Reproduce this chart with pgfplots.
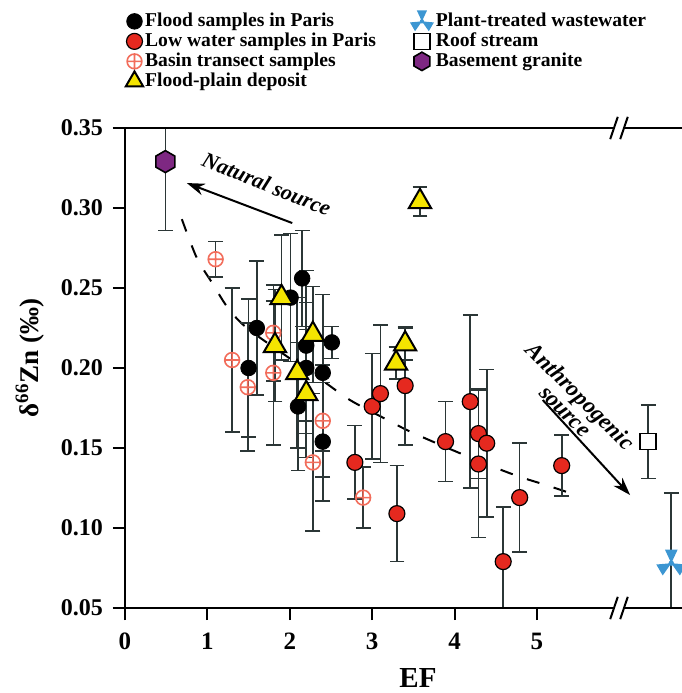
\documentclass[border=0pt]{standalone}
\usepackage{pgfplots}
\pgfplotsset{compat=1.18}
\usepackage{pgfplotstable}
\usepackage{fontspec}
\setmainfont{Liberation Serif}
\usetikzlibrary{arrows.meta}

\definecolor{redpt}{HTML}{E5291F}
\definecolor{salmon}{HTML}{F26D5B}
\definecolor{yel}{HTML}{F4E400}
\definecolor{purp}{HTML}{7E2882}
\definecolor{bluept}{HTML}{3C96D2}
\definecolor{ebar}{HTML}{2B3636}

\pgfdeclareplotmark{hexa}{%
 \pgfpathmoveto{\pgfqpoint{0pt}{\pgfplotmarksize}}%
 \pgfpathlineto{\pgfqpoint{-0.866\pgfplotmarksize}{0.5\pgfplotmarksize}}%
 \pgfpathlineto{\pgfqpoint{-0.866\pgfplotmarksize}{-0.5\pgfplotmarksize}}%
 \pgfpathlineto{\pgfqpoint{0pt}{-\pgfplotmarksize}}%
 \pgfpathlineto{\pgfqpoint{0.866\pgfplotmarksize}{-0.5\pgfplotmarksize}}%
 \pgfpathlineto{\pgfqpoint{0.866\pgfplotmarksize}{0.5\pgfplotmarksize}}%
 \pgfpathclose
 \pgfusepathqfillstroke}

\pgfdeclareplotmark{wstar}{%
 \pgfpathmoveto{\pgfpointorigin}%
 \pgfpathlineto{\pgfpointpolar{65}{\pgfplotmarksize}}%
 \pgfpathlineto{\pgfpointpolar{115}{\pgfplotmarksize}}%
 \pgfpathclose
 \pgfpathmoveto{\pgfpointorigin}%
 \pgfpathlineto{\pgfpointpolar{185}{\pgfplotmarksize}}%
 \pgfpathlineto{\pgfpointpolar{235}{\pgfplotmarksize}}%
 \pgfpathclose
 \pgfpathmoveto{\pgfpointorigin}%
 \pgfpathlineto{\pgfpointpolar{305}{\pgfplotmarksize}}%
 \pgfpathlineto{\pgfpointpolar{355}{\pgfplotmarksize}}%
 \pgfpathclose
 \pgfpathcircle{\pgfpointorigin}{0.18\pgfplotmarksize}%
 \pgfusepathqfill}

\pgfplotstableread{
x y e
1.50 0.200 0.043
1.60 0.225 0.042
2.01 0.244 0.040
2.15 0.256 0.030
2.20 0.214 0.047
2.20 0.200 0.041
2.10 0.176 0.040
2.40 0.197 0.049
2.51 0.216 0.010
2.40 0.154 0.037
}\flood

\pgfplotstableread{
x y e
2.79 0.141 0.023
3.00 0.176 0.033
3.10 0.184 0.043
3.30 0.109 0.030
3.40 0.189 0.037
3.89 0.154 0.025
4.19 0.179 0.054
4.29 0.159 0.028
4.39 0.153 0.046
4.29 0.140 0.046
4.59 0.079 0.034
4.79 0.119 0.034
5.30 0.139 0.019
}\lowwater

\pgfplotstableread{
x y e
1.10 0.268 0.011
1.30 0.205 0.045
1.49 0.188 0.040
1.80 0.222 0.030
1.80 0.197 0.045
2.40 0.167 0.035
2.28 0.141 0.043
2.89 0.119 0.019
}\basin

\pgfplotstableread{
x y e
1.82 0.214 0.035
1.90 0.244 0.039
2.09 0.197 0.047
2.20 0.184 0.040
2.28 0.221 0.030
3.29 0.203 0.010
3.40 0.215 0.010
3.58 0.304 0.009
}\plain

\pgfplotstableread{
x y e
0.49 0.329 0.043
}\granite

\pgfplotstableread{
x y e
6.35 0.154 0.023
}\roof

\pgfplotstableread{
x y e
6.63 0.078 0.044
}\plant

\pgfplotsset{
 floodst/.style={only marks, mark=*, mark size=3.9pt, mark options={fill=black, draw=black}},
 lowst/.style={only marks, mark=*, mark size=4pt, mark options={fill=redpt, draw=black, line width=0.6pt}},
 basinst/.style={only marks, mark=oplus, mark size=3.7pt, mark options={draw=salmon, line width=0.8pt}},
 fpst/.style={only marks, mark=triangle*, mark size=6.4pt, mark options={fill=yel, draw=black, line width=1pt}},
 plantst/.style={only marks, mark=wstar, mark size=7.5pt, mark options={fill=bluept, draw=none}},
 roofst/.style={only marks, mark=square*, mark size=4pt, mark options={fill=white, draw=black, line width=0.8pt}},
 granst/.style={only marks, mark=hexa, mark size=5.5pt, mark options={fill=purp, draw=black, line width=0.8pt}},
 errst/.style={error bars/.cd, y dir=both, y explicit,
   error bar style={line width=0.8pt, ebar},
   error mark options={rotate=90, mark size=3.7pt, line width=0.8pt, ebar}},
}

\begin{document}
\begin{tikzpicture}
\useasboundingbox (-62.5pt,-42.5pt) rectangle (278.5pt,304pt);
\begin{axis}[
 at={(0pt,0pt)}, anchor=south west,
 scale only axis, width=278.5pt, height=240pt,
 xmin=0, xmax=6.76, ymin=0.05, ymax=0.35,
 axis line style={draw=none},
 xtick={0,1,2,3,4,5}, xticklabels={0,1,2,3,4,5},
 ytick={0.05,0.10,0.15,0.20,0.25,0.30,0.35},
 yticklabels={0.05,0.10,0.15,0.20,0.25,0.30,0.35},
 xtick pos=bottom, ytick pos=left,
 tick align=outside, major tick length=6pt,
 tick style={line width=1pt, black},
 xticklabel style={font=\bfseries\fontsize{12.5}{12.5}\selectfont, yshift=-3pt},
 yticklabel style={font=\bfseries\fontsize{12}{12}\selectfont, xshift=-1.5pt},
 xlabel={EF},
 xlabel style={font=\bfseries\fontsize{14.5}{14.5}\selectfont, at={(axis description cs:0.526,-0.146)}, anchor=center},
 ylabel={δ\textsuperscript{66}Zn (‰)},
 ylabel style={font=\bfseries\fontsize{13.5}{13.5}\selectfont, at={(axis description cs:-0.1706,0.521)}, anchor=center, rotate=0},
 legend columns=2,
 legend cell align=left,
 legend image code/.code={\draw[mark repeat=2,mark phase=2,#1] plot coordinates {(0pt,0pt) (4pt,0pt) (9.5pt,0pt)};},
 legend style={at={(axis description cs:-0.01,1.254)}, anchor=north west, draw=none, fill=none,
   font=\bfseries\fontsize{9.8}{10}\selectfont, row sep=0pt,
   /tikz/every even column/.append style={column sep=16pt},
   nodes={inner sep=1pt, text height=6.5pt, text depth=1.5pt}},
]
% trend line
\addplot[forget plot, black, line width=1pt, dash pattern=on 6.5pt off 7.5pt, smooth] coordinates {
 (0.69,0.293) (0.87,0.269) (1.06,0.253) (1.25,0.2375) (1.48,0.225) (2.0,0.206)
 (2.4,0.192) (2.73,0.180) (3.13,0.169) (3.43,0.161) (3.78,0.153) (4.10,0.146)
 (4.43,0.139) (4.79,0.132) (5.1,0.127) (5.45,0.121)};

\addplot[basinst, forget plot, errst] table[x=x, y=y, y error=e] {\basin};
\addplot[floodst, forget plot, errst] table[x=x, y=y, y error=e] {\flood};
\addplot[lowst, forget plot, errst] table[x=x, y=y, y error=e] {\lowwater};
\addplot[fpst, forget plot, errst] table[x=x, y=y, y error=e] {\plain};
\addplot[granst, forget plot, errst] table[x=x, y=y, y error=e] {\granite};
\addplot[roofst, forget plot, errst] table[x=x, y=y, y error=e] {\roof};
\addplot[plantst, forget plot, errst] table[x=x, y=y, y error=e] {\plant};

\addlegendimage{floodst}\addlegendentry{Flood samples in Paris}
\addlegendimage{plantst, mark size=6pt}\addlegendentry{Plant-treated wastewater}
\addlegendimage{lowst}\addlegendentry{Low water samples in Paris}
\addlegendimage{roofst}\addlegendentry{Roof stream}
\addlegendimage{basinst}\addlegendentry{Basin transect samples}
\addlegendimage{granst, mark size=4.6pt}\addlegendentry{Basement granite}
\addlegendimage{fpst, mark size=5pt}\addlegendentry{Flood-plain deposit}

% annotations
\draw[line width=1pt, -{Stealth[length=9pt,width=6pt]}] (axis cs:2.03,0.2906) -- (axis cs:0.75,0.3156);
\node[rotate=-22, font=\bfseries\itshape\fontsize{11}{11}\selectfont] at (axis cs:1.72,0.315) {Natural source};
\draw[line width=1pt, -{Stealth[length=9pt,width=6pt]}] (axis cs:5.07,0.18) -- (axis cs:6.13,0.1206);
\node[rotate=-45, align=center, inner sep=1pt, font=\bfseries\itshape\fontsize{11.5}{10.5}\selectfont] at (axis cs:5.44,0.178) {Anthropogenic\\source};
\end{axis}
% axis lines
\draw[line width=1pt] (0pt,-6pt) -- (0pt,240pt);
\draw[line width=1pt] (-6pt,240pt) -- (280pt,240pt);
\draw[line width=1pt] (-6pt,0pt) -- (280pt,0pt);
% break marks
\foreach \yy in {0pt,240pt}{
 \begin{scope}[shift={(247pt,\yy)}]
  \fill[white] (-3.0pt,-1.6pt) -- (-2.0pt,1.6pt) -- (3.0pt,1.6pt) -- (2.0pt,-1.6pt) -- cycle;
  \draw[line width=1pt] (-4.4pt,-5.6pt) -- (-0.6pt,5.6pt);
  \draw[line width=1pt] (0.6pt,-5.6pt) -- (4.4pt,5.6pt);
 \end{scope}
}
\end{tikzpicture}
\end{document}
